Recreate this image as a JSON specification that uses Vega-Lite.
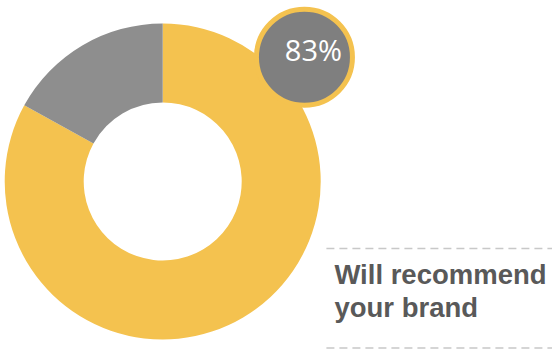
{
  "$schema": "https://vega.github.io/schema/vega-lite/v6.json",
  "autosize": {"type": "fit", "contains": "padding"},
  "width": 553,
  "height": 354,
  "padding": 0,
  "background": "white",
  "config": {"view": {"stroke": null}},
  "data": {"values": [
    {"answer": "Will recommend", "share": 0.83},
    {"answer": "Other", "share": 0.17}
  ]},
  "layer": [
    {
      "mark": {"type": "arc", "outerRadius": 158, "innerRadius": 79},
      "encoding": {
        "x": {"datum": 163, "type": "quantitative", "scale": {"domain": [0, 553], "nice": false, "zero": false}, "axis": null},
        "y": {"datum": 179, "type": "quantitative", "scale": {"domain": [0, 354], "nice": false, "zero": false, "reverse": true}, "axis": null},
        "theta": {"field": "share", "type": "quantitative", "stack": true},
        "order": {"field": "share", "sort": "descending"},
        "color": {"field": "answer", "type": "nominal", "scale": {"domain": ["Will recommend", "Other"], "range": ["#F4C24F", "#8E8E8E"]}, "legend": null}
      }
    },
    {
      "transform": [{"filter": "datum.answer === 'Will recommend'"}],
      "mark": {"type": "point", "shape": "circle", "filled": true, "fill": "#7F7F7F", "stroke": "#F4C24F", "strokeWidth": 5, "size": 9216, "opacity": 1},
      "encoding": {
        "x": {"datum": 305, "type": "quantitative"},
        "y": {"datum": 53, "type": "quantitative"}
      }
    },
    {
      "transform": [{"filter": "datum.answer === 'Will recommend'"}],
      "mark": {"type": "text", "font": "Open Sans", "fontSize": 29, "color": "white", "align": "center", "baseline": "alphabetic"},
      "encoding": {
        "x": {"datum": 314, "type": "quantitative"},
        "y": {"datum": 57, "type": "quantitative"},
        "text": {"field": "share", "type": "quantitative", "format": ".0%"}
      }
    },
    {
      "data": {"values": [{}]},
      "mark": {"type": "rule", "stroke": "#C8C8C8", "strokeWidth": 1.5, "strokeDash": [8, 5]},
      "encoding": {
        "x": {"datum": 327, "type": "quantitative"},
        "x2": {"datum": 553},
        "y": {"datum": 247, "type": "quantitative"}
      }
    },
    {
      "data": {"values": [{}]},
      "mark": {"type": "rule", "stroke": "#C8C8C8", "strokeWidth": 1.5, "strokeDash": [8, 5]},
      "encoding": {
        "x": {"datum": 327, "type": "quantitative"},
        "x2": {"datum": 553},
        "y": {"datum": 348, "type": "quantitative"}
      }
    },
    {
      "transform": [{"filter": "datum.answer === 'Will recommend'"}],
      "mark": {"type": "text", "font": "Liberation Sans", "fontWeight": "bold", "fontSize": 27.5, "color": "#595959", "align": "left", "baseline": "alphabetic", "lineHeight": 33},
      "encoding": {
        "x": {"datum": 335, "type": "quantitative"},
        "y": {"datum": 283, "type": "quantitative"},
        "text": {"value": ["Will recommend", "your brand"]}
      }
    }
  ]
}
